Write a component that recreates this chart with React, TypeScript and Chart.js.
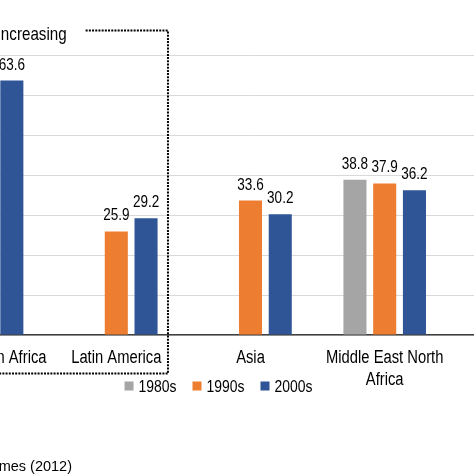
import React, { useEffect, useRef } from "react";
import { Chart, registerables } from "chart.js";

Chart.register(...registerables);

const categories: (string | string[])[] = [
  "Sub-Saharan Africa",
  "Latin America",
  "Asia",
  ["Middle East North", "Africa"],
  "",
];
const series = ["1980s", "1990s", "2000s"];
const values1980s: (number | null)[] = [null, null, null, 38.8, null];
const values1990s: (number | null)[] = [null, 25.9, 33.6, 37.9, null];
const values2000s: (number | null)[] = [63.6, 29.2, 30.2, 36.2, null];
const colors = ["#A5A5A5", "#ED7D31", "#2F5597"];
const yTicks = [0, 10, 20, 30, 40, 50, 60, 70];
const boxLabel = "Increasing";
const sourceText = "Holmes (2012)";

const FONT = "'Liberation Sans', Arial, sans-serif";
const NARROW = 0.82; // horizontal compression to mimic a narrow typeface
const OFFSET_X = -100; // canvas left relative to page
const CANVAS_W = 686;
const CANVAS_H = 474;

function narrowText(
  ctx: CanvasRenderingContext2D,
  text: string,
  x: number,
  y: number,
  size: number,
  align: CanvasTextAlign,
  squeeze: number = NARROW
) {
  ctx.save();
  ctx.font = `${size}px ${FONT}`;
  ctx.textAlign = align;
  ctx.textBaseline = "alphabetic";
  ctx.translate(x, y);
  ctx.scale(squeeze, 1);
  ctx.fillText(text, 0, 0);
  ctx.restore();
}

function narrowWidth(ctx: CanvasRenderingContext2D, text: string, size: number) {
  ctx.save();
  ctx.font = `${size}px ${FONT}`;
  const w = ctx.measureText(text).width * NARROW;
  ctx.restore();
  return w;
}

const labelsPlugin = {
  id: "valueLabels",
  afterDatasetsDraw(chart: any) {
    const ctx = chart.ctx;
    ctx.save();
    ctx.fillStyle = "#000";
    chart.data.datasets.forEach((ds: any, i: number) => {
      const meta = chart.getDatasetMeta(i);
      meta.data.forEach((bar: any, j: number) => {
        const v = ds.data[j];
        if (v === null || v === undefined) return;
        narrowText(ctx, v.toFixed(1), bar.x, bar.y - 11, 16.5, "center");
      });
    });
    ctx.restore();
  },
};

const decorPlugin = {
  id: "decor",
  afterDraw(chart: any) {
    const ctx = chart.ctx;
    const x = chart.scales.x;
    const y = chart.scales.y;
    const area = chart.chartArea;
    const catW = x.width / categories.length;

    ctx.save();
    ctx.fillStyle = "#000";

    // category labels
    categories.forEach((c, i) => {
      const lines = Array.isArray(c) ? c : [c];
      const cx = x.getPixelForValue(i);
      lines.forEach((ln, k) => {
        narrowText(ctx, ln, cx, area.bottom + 28 + 22 * k, 18, "center");
      });
    });

    // dotted box
    const right = x.getPixelForValue(1) + 0.385 * catW;
    const top = y.getPixelForValue(76.1);
    const bottom = area.bottom + 38.5;
    const textRight = x.getPixelForValue(0) + 0.63 * catW;
    const lineStart = textRight + 19;
    ctx.strokeStyle = "#000";
    ctx.lineWidth = 2;
    ctx.setLineDash([2, 1.2]);
    ctx.beginPath();
    ctx.moveTo(lineStart, top);
    ctx.lineTo(right, top);
    ctx.lineTo(right, bottom);
    ctx.lineTo(0, bottom);
    ctx.stroke();
    ctx.setLineDash([]);

    // box label
    narrowText(ctx, boxLabel, textRight, top + 9, 18.5, "right");

    // legend
    const size = 17;
    const box = 9;
    const gapBoxText = 5;
    const gapItems = 16;
    const widths = series.map((s) => narrowWidth(ctx, s, size));
    const total =
      widths.reduce((a, b) => a + b, 0) +
      series.length * (box + gapBoxText) +
      (series.length - 1) * gapItems;
    const centerX = 218.5 - OFFSET_X;
    const ly = area.bottom + 51;
    let lx = centerX - total / 2;
    series.forEach((s, i) => {
      ctx.fillStyle = colors[i];
      ctx.fillRect(lx, ly - box / 2, box, box);
      lx += box + gapBoxText;
      ctx.fillStyle = "#000";
      narrowText(ctx, s, lx, ly + 6, size, "left");
      lx += widths[i] + gapItems;
    });

    // source (regular width typeface)
    narrowText(ctx, sourceText, 72 - OFFSET_X, area.bottom + 135.5, 14.5, "right", 1);
    ctx.restore();
  },
};

export default function App() {
  const ref = useRef<HTMLCanvasElement | null>(null);

  useEffect(() => {
    document.body.style.margin = "0";
    if (!ref.current) return;
    const chart = new Chart(ref.current, {
      type: "bar",
      data: {
        labels: categories as any,
        datasets: [
          { label: series[0], data: values1980s, backgroundColor: colors[0] },
          { label: series[1], data: values1990s, backgroundColor: colors[1] },
          { label: series[2], data: values2000s, backgroundColor: colors[2] },
        ],
      },
      options: {
        responsive: false,
        animation: false,
        layout: { padding: { left: 15, right: 0, top: 55, bottom: 0 } },
        datasets: {
          bar: { categoryPercentage: 0.665, barPercentage: 0.775 },
        },
        plugins: {
          legend: { display: false },
          tooltip: { enabled: false },
        },
        scales: {
          x: {
            grid: { display: false, drawTicks: false },
            border: { display: true, color: "#404040", width: 1.5 },
            ticks: { display: false },
            afterFit: (scale: any) => {
              scale.height = 139;
              scale.paddingLeft = 0;
              scale.paddingRight = 0;
            },
          },
          y: {
            min: yTicks[0],
            max: yTicks[yTicks.length - 1],
            afterBuildTicks: (scale: any) => {
              scale.ticks = yTicks.map((v) => ({ value: v }));
            },
            ticks: { display: false },
            grid: { color: "#D9D9D9", lineWidth: 1, drawTicks: false },
            border: { display: false },
            afterFit: (scale: any) => {
              scale.width = 0;
            },
          },
        },
      },
      plugins: [labelsPlugin, decorPlugin],
    });
    return () => chart.destroy();
  }, []);

  return (
    <div style={{ position: "relative", width: 474, height: 474, overflow: "hidden", background: "#fff" }}>
      <canvas
        ref={ref}
        width={CANVAS_W}
        height={CANVAS_H}
        style={{ position: "absolute", left: OFFSET_X, top: 0, width: CANVAS_W, height: CANVAS_H }}
      />
    </div>
  );
}
